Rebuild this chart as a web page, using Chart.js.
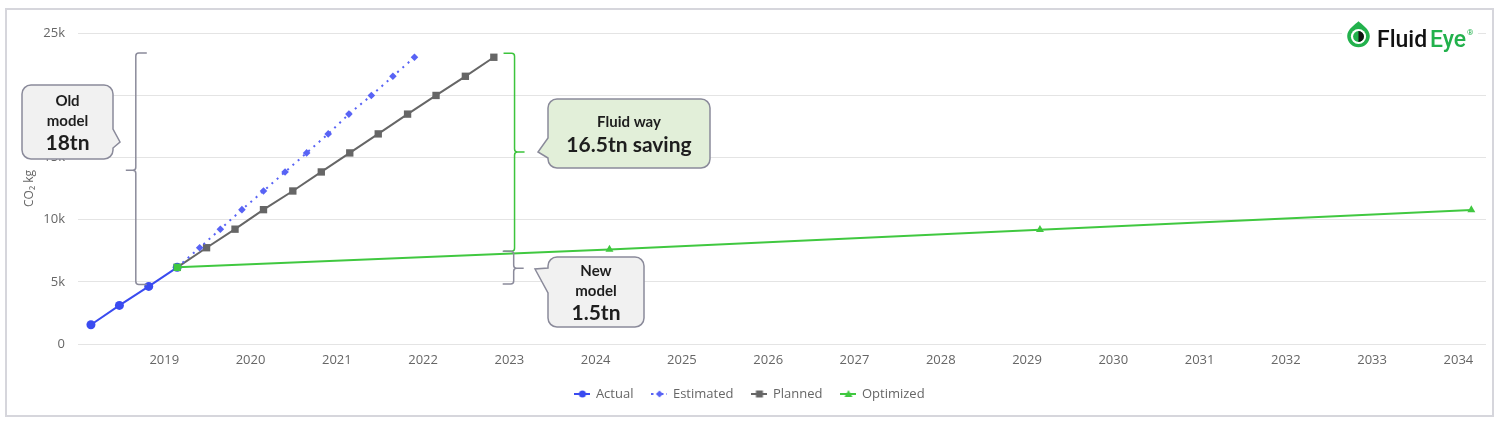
<!DOCTYPE html>
<html>
<head>
<meta charset="utf-8">
<script src="https://cdn.jsdelivr.net/npm/chart.js@4.4.1/dist/chart.umd.min.js"></script>
<style>
  html, body { margin: 0; padding: 0; background: #fff; }
  #frame { position: absolute; left: 5px; top: 8px; width: 1489px; height: 409px; box-sizing: border-box; border: 2px solid #d6d6dc; }
  #wrap { position: absolute; left: 0; top: 0; width: 1500px; height: 428px; }
</style>
</head>
<body>
<div id="frame"></div>
<div id="wrap"><canvas id="chart"></canvas></div>
<script>
// data (x = decimal year, y = kg CO2)
const actualYears = [2018.15, 2018.48, 2018.82, 2019.15];
const actualValues = [1550, 3100, 4630, 6160];
const estimatedYears = [2019.15, 2019.41, 2019.65, 2019.90, 2020.15, 2020.40, 2020.65, 2020.90, 2021.14, 2021.40, 2021.65, 2021.90];
const estimatedValues = [6160, 7740, 9230, 10800, 12300, 13830, 15360, 16890, 18480, 19980, 21520, 23050];
const plannedYears = [2019.15, 2019.49, 2019.82, 2020.15, 2020.49, 2020.82, 2021.15, 2021.48, 2021.82, 2022.15, 2022.49, 2022.82];
const plannedValues = [6160, 7740, 9230, 10800, 12300, 13830, 15360, 16890, 18480, 19980, 21520, 23050];
const optimizedYears = [2019.15, 2024.16, 2029.15, 2034.15];
const optimizedValues = [6160, 7600, 9190, 10780];
const yearTicks = [2019, 2020, 2021, 2022, 2023, 2024, 2025, 2026, 2027, 2028, 2029, 2030, 2031, 2032, 2033, 2034];
const seriesNames = ['Actual', 'Estimated', 'Planned', 'Optimized'];

// curly brackets (x in years, y in kg)
const brackets = [
    {x: 2018.67, top: 23400, bottom: 4780, tip: 13960, dir: -1, color: '#8b8b9b'},
    {x: 2023.06, top: 23370, bottom: 7460, tip: 15440, dir: 1, color: '#3cc43c'},
    {x: 2023.05, top: 7460, bottom: 4830, tip: 6090, dir: 1, color: '#8b8b9b'}
];

// callout boxes (pixels)
const callouts = [
    {box: [22, 85, 113, 159], side: 'right', notch: [129, 148], tip: [120, 142], fill: '#f1f1f1',
     lines: [['Old', 15, 101], ['model', 15, 121], ['18tn', 21, 143]]},
    {box: [548, 99, 710, 168], side: 'left', notch: [138, 158], tip: [538, 152], fill: '#e2efd9',
     lines: [['Fluid way', 15, 122], ['16.5tn saving', 21, 145]]},
    {box: [548, 257, 644, 327], side: 'left', notch: [268, 293], tip: [535, 269], fill: '#f1f1f1',
     lines: [['New', 15, 271], ['model', 15, 291], ['1.5tn', 21, 313]]}
];

const colors = {actual: '#3a4bf0', estimated: '#5863f5', planned: '#666666', optimized: '#40c840'};

function toPoints(xs, ys) {
    return xs.map((x, i) => ({x: x, y: ys[i]}));
}

function legendIcon(color, marker, dash) {
    const c = document.createElement('canvas');
    c.width = 16; c.height = 10;
    const g = c.getContext('2d');
    g.strokeStyle = color;
    g.fillStyle = color;
    g.lineWidth = 2;
    if (dash) g.setLineDash(dash);
    g.beginPath(); g.moveTo(0, 5); g.lineTo(16, 5); g.stroke();
    g.beginPath();
    if (marker === 'circle') g.arc(8, 5, 3.5, 0, Math.PI * 2);
    if (marker === 'diamond') { g.moveTo(8, 1.5); g.lineTo(11.5, 5); g.lineTo(8, 8.5); g.lineTo(4.5, 5); }
    if (marker === 'square') g.rect(4.5, 1.5, 7, 7);
    if (marker === 'triangle') { g.moveTo(8, 1); g.lineTo(12, 8); g.lineTo(4, 8); }
    g.fill();
    return c;
}
const legendIcons = [
    legendIcon(colors.actual, 'circle'),
    legendIcon(colors.estimated, 'diamond', [2, 3]),
    legendIcon(colors.planned, 'square'),
    legendIcon(colors.optimized, 'triangle')
];

function drawBrace(ctx, vx, y1, y2, ym, dir, color) {
    const s = -dir, r = 3;
    ctx.strokeStyle = color;
    ctx.lineWidth = 1.5;
    ctx.beginPath();
    ctx.moveTo(vx + s * 11, y1);
    ctx.lineTo(vx + s * r, y1);
    ctx.quadraticCurveTo(vx, y1, vx, y1 + r);
    ctx.lineTo(vx, ym - r);
    ctx.quadraticCurveTo(vx, ym, vx + dir * r, ym);
    ctx.lineTo(vx + dir * 10, ym);
    ctx.moveTo(vx + dir * r, ym);
    ctx.quadraticCurveTo(vx, ym, vx, ym + r);
    ctx.lineTo(vx, y2 - r);
    ctx.quadraticCurveTo(vx, y2, vx + s * r, y2);
    ctx.lineTo(vx + s * 11, y2);
    ctx.stroke();
}

function drawCallout(ctx, c) {
    const [l, t, rt, b] = c.box;
    const r = 9;
    ctx.beginPath();
    ctx.moveTo(l + r, t);
    ctx.lineTo(rt - r, t);
    ctx.arcTo(rt, t, rt, t + r, r);
    if (c.side === 'right') {
        ctx.lineTo(rt, c.notch[0]);
        ctx.lineTo(c.tip[0], c.tip[1]);
        ctx.lineTo(rt, c.notch[1]);
    }
    ctx.lineTo(rt, b - r);
    ctx.arcTo(rt, b, rt - r, b, r);
    ctx.lineTo(l + r, b);
    ctx.arcTo(l, b, l, b - r, r);
    if (c.side === 'left') {
        ctx.lineTo(l, c.notch[1]);
        ctx.lineTo(c.tip[0], c.tip[1]);
        ctx.lineTo(l, c.notch[0]);
    }
    ctx.lineTo(l, t + r);
    ctx.arcTo(l, t, l + r, t, r);
    ctx.closePath();
    ctx.fillStyle = c.fill;
    ctx.fill();
    ctx.strokeStyle = '#8a8a9a';
    ctx.lineWidth = 1.5;
    ctx.stroke();
    ctx.fillStyle = '#1e1e1e';
    ctx.textAlign = 'center';
    ctx.textBaseline = 'middle';
    c.lines.forEach(([txt, size, ty]) => {
        ctx.font = 'bold ' + size + 'px Lato, "Open Sans", sans-serif';
        ctx.fillText(txt, (l + rt) / 2, ty);
    });
}

function drawLogo(ctx) {
    ctx.fillStyle = '#fff';
    ctx.fillRect(1342, 24, 136, 28);
    const cx = 1358.5, cy = 36, r = 11.3, top = 21.3;
    ctx.fillStyle = '#22b14c';
    ctx.beginPath();
    ctx.moveTo(cx, top);
    ctx.bezierCurveTo(cx + 3, top + 3, cx + r, cy - r * 0.6, cx + r, cy);
    ctx.arc(cx, cy, r, 0, Math.PI);
    ctx.bezierCurveTo(cx - r, cy - r * 0.6, cx - 3, top + 3, cx, top);
    ctx.fill();
    ctx.fillStyle = '#fff';
    ctx.beginPath(); ctx.arc(cx, cy + 0.5, 7.6, 0, Math.PI * 2); ctx.fill();
    ctx.fillStyle = '#22b14c';
    ctx.beginPath(); ctx.arc(cx, cy + 0.5, 5.4, 0, Math.PI * 2); ctx.fill();
    ctx.fillStyle = '#111';
    ctx.beginPath(); ctx.arc(cx, cy + 0.5, 5.4, -Math.PI / 2, Math.PI / 2); ctx.fill();
    ctx.textAlign = 'left';
    ctx.textBaseline = 'alphabetic';
    ctx.font = '500 23px Roboto, sans-serif';
    ctx.fillStyle = '#111';
    ctx.fillText('Fluid', 1377, 47);
    ctx.fillStyle = '#22b14c';
    ctx.fillText('Eye', 1430, 47);
    ctx.font = '8px Roboto, sans-serif';
    ctx.fillText('®', 1467, 35);
}

const decorations = {
    id: 'decorations',
    afterDraw(chart) {
        const {ctx, scales} = chart;
        ctx.save();
        brackets.forEach(b => drawBrace(ctx, scales.x.getPixelForValue(b.x),
            scales.y.getPixelForValue(b.top), scales.y.getPixelForValue(b.bottom),
            scales.y.getPixelForValue(b.tip), b.dir, b.color));
        callouts.forEach(c => drawCallout(ctx, c));
        drawLogo(ctx);
        ctx.restore();
    }
};

const tickFont = {family: '"Open Sans", sans-serif', size: 13};

const chart = new Chart(document.getElementById('chart'), {
    type: 'line',
    data: {
        datasets: [{
            label: seriesNames[0],
            data: toPoints(actualYears, actualValues),
            borderColor: colors.actual,
            backgroundColor: colors.actual,
            borderWidth: 2,
            pointRadius: 4.5,
            pointBorderWidth: 0
        }, {
            label: seriesNames[1],
            data: toPoints(estimatedYears, estimatedValues),
            borderColor: colors.estimated,
            backgroundColor: colors.estimated,
            borderWidth: 2,
            borderDash: [2, 5],
            pointStyle: 'rectRot',
            pointRadius: 3.8,
            pointBorderWidth: 0
        }, {
            label: seriesNames[2],
            data: toPoints(plannedYears, plannedValues),
            borderColor: colors.planned,
            backgroundColor: colors.planned,
            borderWidth: 2,
            pointStyle: 'rect',
            pointRadius: 5.2,
            pointBorderWidth: 0
        }, {
            label: seriesNames[3],
            data: toPoints(optimizedYears, optimizedValues),
            borderColor: colors.optimized,
            backgroundColor: colors.optimized,
            borderWidth: 2,
            pointStyle: ['rect', 'triangle', 'triangle', 'triangle'],
            pointRadius: [5.2, 4.6, 4.6, 4.6],
            pointBorderWidth: 0,
            order: -1
        }]
    },
    options: {
        responsive: true,
        maintainAspectRatio: false,
        animation: false,
        layout: {padding: {top: 33, right: 14, bottom: 17.5, left: 14}},
        scales: {
            x: {
                type: 'linear',
                min: 2018,
                max: 2034.32,
                grid: {display: false, drawTicks: false},
                border: {display: false},
                afterBuildTicks: axis => { axis.ticks = yearTicks.map(v => ({value: v})); },
                afterFit: axis => { axis.height = 24.5; },
                ticks: {
                    color: '#666',
                    font: tickFont,
                    padding: 8,
                    maxRotation: 0,
                    autoSkip: false,
                    callback: v => String(v)
                }
            },
            y: {
                min: 0,
                max: 25000,
                grid: {color: '#e4e4e4', drawTicks: false},
                border: {display: false},
                afterFit: axis => { axis.width = 64; },
                title: {
                    display: true,
                    text: 'CO₂ kg',
                    color: '#666',
                    font: {family: '"Open Sans", sans-serif', size: 12},
                    padding: {top: 8, bottom: 0}
                },
                ticks: {
                    stepSize: 5000,
                    color: '#666',
                    font: tickFont,
                    padding: 13,
                    callback: v => v === 0 ? '0' : (v / 1000) + 'k'
                }
            }
        },
        plugins: {
            tooltip: {enabled: false},
            legend: {
                position: 'bottom',
                labels: {
                    usePointStyle: true,
                    pointStyleWidth: 14,
                    padding: 19,
                    color: '#666',
                    font: tickFont,
                    generateLabels: ch => ch.data.datasets.map((ds, i) => ({
                        text: ds.label,
                        pointStyle: legendIcons[i],
                        fillStyle: ds.borderColor,
                        strokeStyle: ds.borderColor,
                        lineWidth: 0,
                        hidden: false,
                        datasetIndex: i,
                        fontColor: '#666'
                    }))
                }
            }
        }
    },
    plugins: [decorations]
});
</script>
</body>
</html>
